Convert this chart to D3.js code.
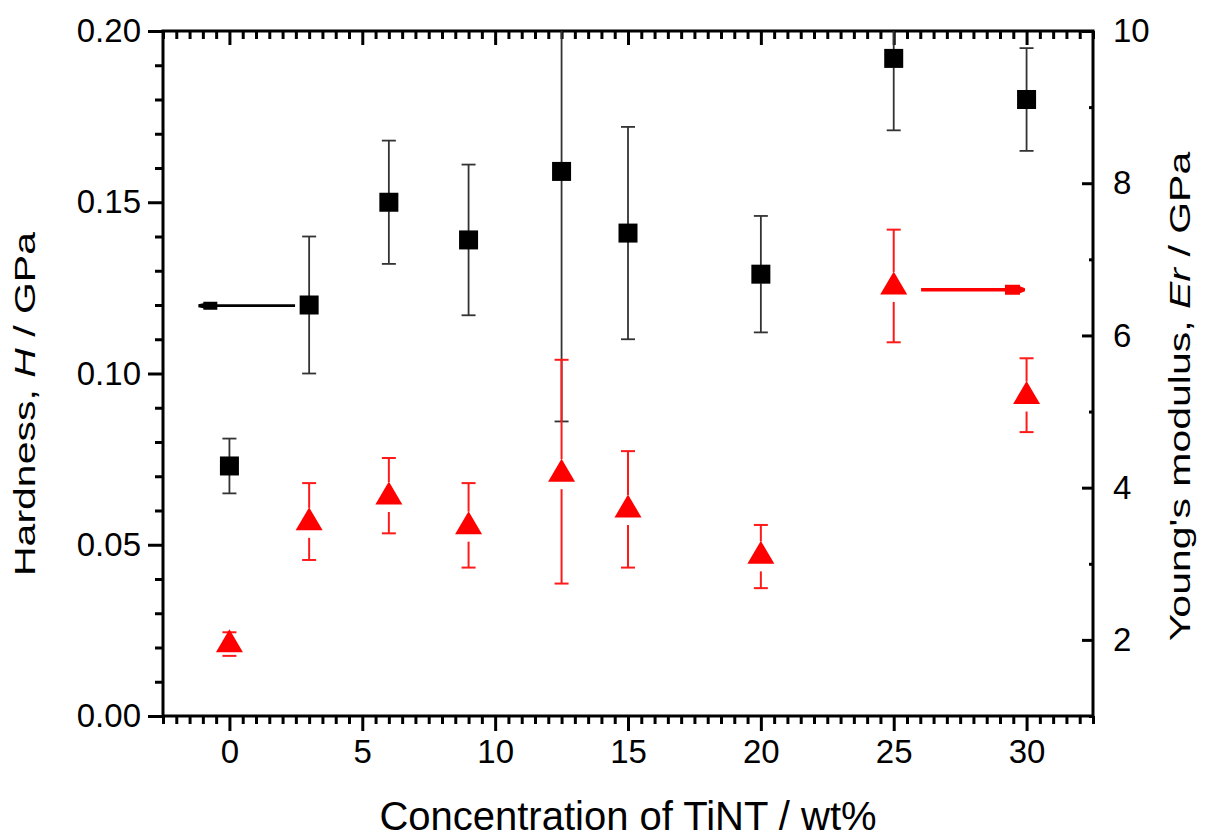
<!DOCTYPE html>
<html>
<head>
<meta charset="utf-8">
<script src="https://cdn.jsdelivr.net/npm/d3@7"></script>
<style>
  html, body { margin: 0; padding: 0; background: #fff; }
  svg { display: block; font-family: "Liberation Sans", Arial, sans-serif; }
</style>
</head>
<body>
<svg id="chart" width="1212" height="837"></svg>
<script>
// ---- data ----
const concentration = [0, 3, 6, 9, 12.5, 15, 20, 25, 30];
const hardness      = [0.073, 0.120, 0.150, 0.139, 0.159, 0.141, 0.129, 0.192, 0.180];
const hardnessHigh  = [0.081, 0.140, 0.168, 0.161, 0.232, 0.172, 0.146, 0.213, 0.195];
const hardnessLow   = [0.065, 0.100, 0.132, 0.117, 0.086, 0.110, 0.112, 0.171, 0.165];
const modulus       = [1.99, 3.59, 3.93, 3.54, 4.23, 3.76, 3.15, 6.69, 5.25];
const modulusHigh   = [2.10, 4.06, 4.39, 4.06, 5.68, 4.48, 3.51, 7.39, 5.70];
const modulusLow    = [1.79, 3.05, 3.40, 2.95, 2.74, 2.95, 2.68, 5.91, 4.73];
const xTicks  = [0, 5, 10, 15, 20, 25, 30];
const hTicks  = [0.00, 0.05, 0.10, 0.15, 0.20];
const eTicks  = [2, 4, 6, 8, 10];
// arrows pointing to each series' axis (x from, x to, y value)
const arrowH = [2.47, -1.17, 0.1198];
const arrowE = [26.03, 29.94, 6.6];

// ---- layout ----
const W = 1212, H = 837;
const m = { left: 163, top: 31, right: 119, bottom: 121 };
const svg = d3.select("#chart");

const x = d3.scaleLinear().domain([-2.5, 32.5]).range([m.left, W - m.right]);
const yH = d3.scaleLinear().domain([0, 0.20]).range([H - m.bottom, m.top]);
const yE = d3.scaleLinear().domain([1, 10]).range([H - m.bottom, m.top]);

svg.append("defs").append("clipPath").attr("id", "plotclip")
  .append("rect").attr("x", m.left).attr("y", m.top)
  .attr("width", W - m.left - m.right).attr("height", H - m.top - m.bottom);

const minorX = d3.range(-2.5, 32.51, 0.5).filter(v => Math.abs(v % 5) > 1e-6);
const minorH = d3.range(0, 0.2001, 0.01).filter(v => Math.abs(Math.round(v * 100) % 5) > 0);
const minorE = d3.range(1, 10.01, 1).filter(v => v % 2 !== 0);

function styleAxis(g) {
  g.select(".domain").remove();
  g.selectAll("line").attr("stroke", "#000").attr("stroke-width", 3);
  g.selectAll("text").attr("fill", "#000").attr("font-size", 33);
}

// bottom
svg.append("g").attr("transform", `translate(0,${H - m.bottom})`)
  .call(d3.axisBottom(x).tickValues(minorX).tickSize(8).tickFormat("")).call(styleAxis);
svg.append("g").attr("transform", `translate(0,${H - m.bottom})`)
  .call(d3.axisBottom(x).tickValues(xTicks).tickSize(15).tickPadding(9).tickFormat(d3.format("d"))).call(styleAxis);
// top (inward)
svg.append("g").attr("transform", `translate(0,${m.top})`)
  .call(d3.axisTop(x).tickValues(minorX).tickSize(-8).tickFormat("")).call(styleAxis);
svg.append("g").attr("transform", `translate(0,${m.top})`)
  .call(d3.axisTop(x).tickValues(xTicks).tickSize(-14).tickFormat("")).call(styleAxis);
// left
svg.append("g").attr("transform", `translate(${m.left},0)`)
  .call(d3.axisLeft(yH).tickValues(minorH).tickSize(8).tickFormat("")).call(styleAxis);
svg.append("g").attr("transform", `translate(${m.left},0)`)
  .call(d3.axisLeft(yH).tickValues(hTicks).tickSize(15).tickPadding(7).tickFormat(d3.format(".2f"))).call(styleAxis);
// right (inward ticks, labels outside)
svg.append("g").attr("transform", `translate(${W - m.right},0)`)
  .call(d3.axisRight(yE).tickValues(minorE).tickSize(-4).tickFormat("")).call(styleAxis);
svg.append("g").attr("transform", `translate(${W - m.right},0)`)
  .call(d3.axisRight(yE).tickValues(eTicks).tickSize(-11).tickPadding(20).tickFormat(d3.format("d"))).call(styleAxis);

// frame
svg.append("rect").attr("x", m.left).attr("y", m.top)
  .attr("width", W - m.left - m.right).attr("height", H - m.top - m.bottom)
  .attr("fill", "none").attr("stroke", "#000").attr("stroke-width", 3);

// ---- plot ----
const plot = svg.append("g").attr("clip-path", "url(#plotclip)");
const capW = 7;

function errorBars(vals, hi, lo, yScale, color, width, gapUp, gapDown) {
  const g = plot.append("g").attr("stroke", color).attr("stroke-width", width).attr("fill", "none");
  concentration.forEach((c, i) => {
    const cx = x(c), cy = yScale(vals[i]), yt = yScale(hi[i]), yb = yScale(lo[i]);
    if (yt < cy - gapUp) g.append("line").attr("x1", cx).attr("x2", cx).attr("y1", yt).attr("y2", cy - gapUp);
    if (yb > cy + gapDown) g.append("line").attr("x1", cx).attr("x2", cx).attr("y1", cy + gapDown).attr("y2", yb);
    g.append("line").attr("x1", cx - capW).attr("x2", cx + capW).attr("y1", yt).attr("y2", yt);
    g.append("line").attr("x1", cx - capW).attr("x2", cx + capW).attr("y1", yb).attr("y2", yb);
  });
}

errorBars(hardness, hardnessHigh, hardnessLow, yH, "#333", 1.8, 9, 9);
errorBars(modulus, modulusHigh, modulusLow, yE, "#ff1a1a", 2, 11, 19);

// markers
plot.append("g").selectAll("rect").data(concentration).join("rect")
  .attr("x", d => x(d) - 9.5).attr("y", (d, i) => yH(hardness[i]) - 9.5)
  .attr("width", 19).attr("height", 19).attr("fill", "#000");

const tri = "M0,-11.5 L13.5,11.5 L-13.5,11.5 Z";
plot.append("g").selectAll("path").data(concentration).join("path")
  .attr("d", tri)
  .attr("transform", (d, i) => `translate(${x(d)},${yE(modulus[i])})`)
  .attr("fill", "#ff0000");

// arrows
function arrow(a, yScale, color, lw, headLen, headH) {
  const x1 = x(a[0]), x2 = x(a[1]), yy = yScale(a[2]);
  const dir = Math.sign(x2 - x1);
  const g = svg.append("g");
  g.append("line").attr("x1", x1).attr("x2", x2 - dir * headLen * 0.5).attr("y1", yy).attr("y2", yy)
    .attr("stroke", color).attr("stroke-width", lw);
  const b = x2 - dir * headLen, mid = x2 - dir * 5;
  g.append("path")
    .attr("d", `M${b},${yy - headH / 2} L${mid},${yy - headH / 2} L${mid},${yy - headH / 2 + 1.5} L${x2},${yy - 1.5} L${x2},${yy + 1.5} L${mid},${yy + headH / 2 - 1.5} L${mid},${yy + headH / 2} L${b},${yy + headH / 2} Z`)
    .attr("fill", color);
}
arrow(arrowH, yH, "#000", 2.7, 19, 8);
arrow(arrowE, yE, "#ff0000", 3.5, 20, 10);

// ---- titles ----
svg.append("text").attr("x", (m.left + W - m.right) / 2).attr("y", 830)
  .attr("text-anchor", "middle").attr("font-size", 40).attr("fill", "#000")
  .text("Concentration of TiNT / wt%");

const lt = svg.append("text").attr("transform", "translate(35,404) rotate(-90) scale(1,0.72)")
  .attr("text-anchor", "middle").attr("font-size", 41).attr("fill", "#000");
lt.append("tspan").text("Hardness, ");
lt.append("tspan").attr("font-style", "italic").text("H");
lt.append("tspan").text(" / GPa");

const rt = svg.append("text").attr("transform", "translate(1190,396.5) rotate(-90) scale(1,0.72)")
  .attr("text-anchor", "middle").attr("font-size", 41).attr("fill", "#000");
rt.append("tspan").text("Young's modulus, ");
rt.append("tspan").attr("font-style", "italic").text("Er");
rt.append("tspan").text(" / GPa");
</script>
</body>
</html>
